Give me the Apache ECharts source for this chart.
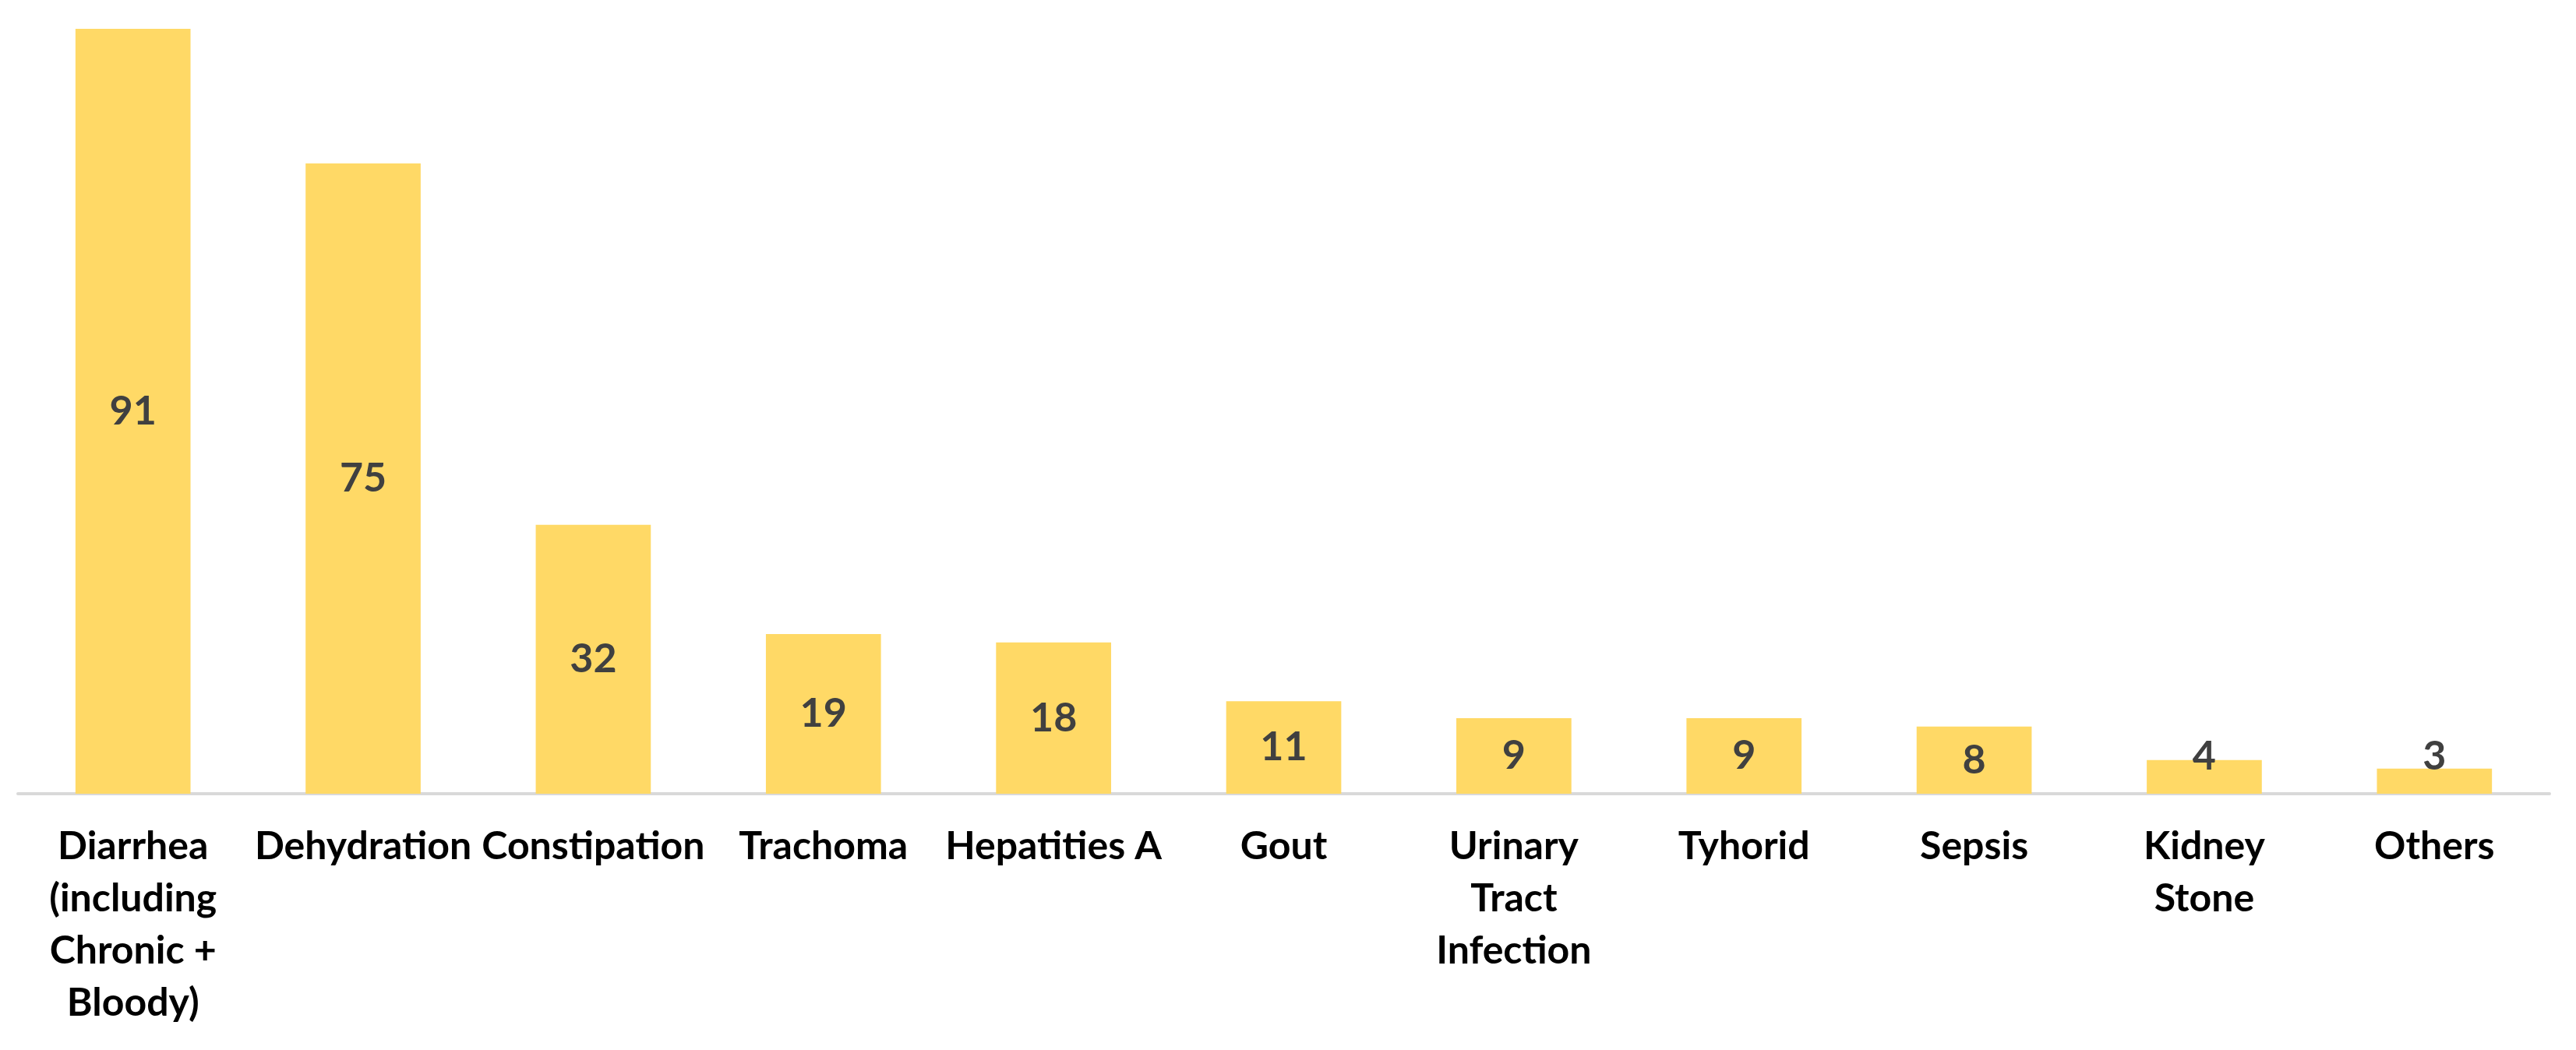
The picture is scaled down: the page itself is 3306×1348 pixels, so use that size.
<!DOCTYPE html>
<html>
<head>
<meta charset="utf-8">
<script src="https://cdn.jsdelivr.net/npm/echarts@6/dist/echarts.min.js"></script>
<style>
    html, body { margin: 0; padding: 0; background: #fff; }
    #chart { width: 3306px; height: 1348px; }
</style>
</head>
<body>
<div id="chart"></div>
<script>
    // categories and counts
    var categories = [
        'Diarrhea\n(including\nChronic +\nBloody)',
        'Dehydration',
        'Constipation',
        'Trachoma',
        'Hepatities A',
        'Gout',
        'Urinary\nTract\nInfection',
        'Tyhorid',
        'Sepsis',
        'Kidney\nStone',
        'Others'
    ];
    var counts = [91, 75, 32, 19, 18, 11, 9, 9, 8, 4, 3];

    var mychart = echarts.init(document.getElementById('chart'));

    // short bars: the label sits on the axis instead of the bar middle
    var barData = counts.map(function (v) {
        if (v < 5) {
            return { value: v, label: { position: 'insideBottom', distance: 22 } };
        }
        return v;
    });

    var option = {
        animation: false,
        grid: {
            left: 23,
            right: 34,
            top: 37,
            bottom: 329
        },
        xAxis: {
            type: 'category',
            data: categories,
            axisLine: { lineStyle: { color: '#D9D9D9', width: 4 } },
            axisTick: { show: false },
            axisLabel: {
                interval: 0,
                margin: 34,
                fontFamily: 'Lato',
                fontWeight: 'bold',
                fontSize: 50,
                lineHeight: 67,
                color: '#000000'
            }
        },
        yAxis: {
            type: 'value',
            min: 0,
            max: 91,
            show: false,
            splitLine: { show: false }
        },
        series: [
            {
                type: 'bar',
                data: barData,
                barCategoryGap: '50%',
                itemStyle: { color: '#FFD966' },
                label: {
                    show: true,
                    position: 'inside',
                    fontFamily: 'Lato',
                    fontWeight: 'bold',
                    fontSize: 52,
                    color: '#404040'
                }
            }
        ]
    };
    mychart.setOption(option);
</script>
</body>
</html>
